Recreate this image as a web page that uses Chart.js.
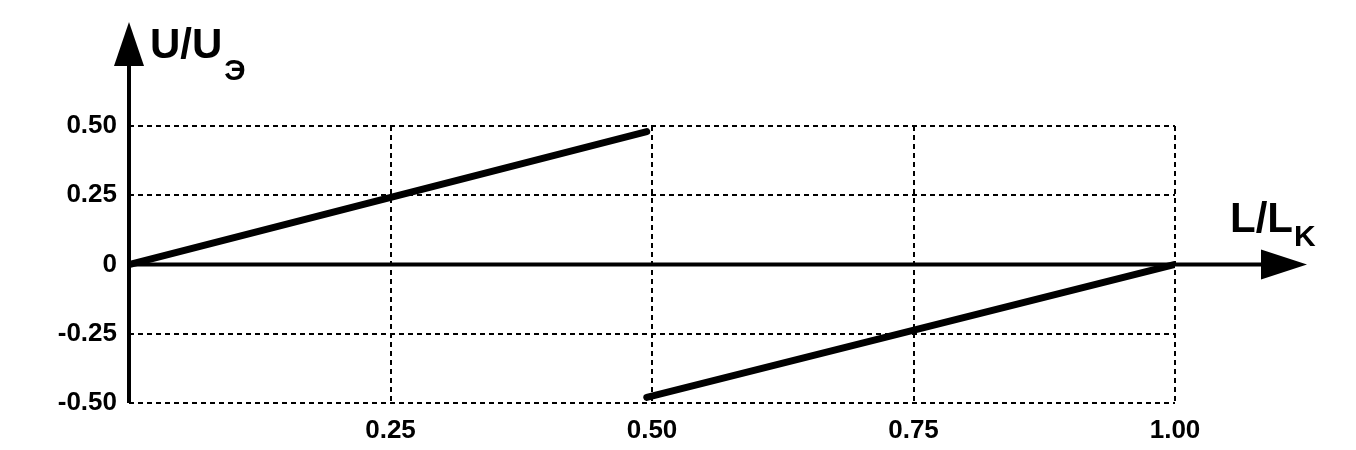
<!DOCTYPE html>
<html><head><meta charset="utf-8">
<script src="https://cdn.jsdelivr.net/npm/chart.js@4"></script>
<style>html,body{margin:0;padding:0;background:#fff}#w{width:1356px;height:450px}</style>
</head><body><div id="w"><canvas id="c"></canvas></div>
<script>
const segment1 = [{x:0, y:0}, {x:0.495, y:0.48}];
const segment2 = [{x:0.495, y:-0.48}, {x:1.0, y:0}];
const xTicks = [0.25, 0.50, 0.75, 1.00];
const yTicks = [-0.50, -0.25, 0, 0.25, 0.50];
const yTitle = ['U/U', 'Э'];
const xTitle = ['L/L', 'K'];
const FONT = 'Liberation Sans, Arial, sans-serif';

const axesPlugin = {
  id: 'axes',
  afterDatasetsDraw(chart) {
    const ctx = chart.ctx, xs = chart.scales.x, ys = chart.scales.y;
    const x0 = xs.getPixelForValue(0), y0 = ys.getPixelForValue(0);
    ctx.save();
    ctx.strokeStyle = '#000'; ctx.fillStyle = '#000'; ctx.lineWidth = 4;
    ctx.beginPath(); ctx.moveTo(x0, ys.bottom); ctx.lineTo(x0, 62); ctx.stroke();
    ctx.beginPath(); ctx.moveTo(x0, 22); ctx.lineTo(x0 - 15, 66); ctx.lineTo(x0 + 15, 66); ctx.closePath(); ctx.fill();
    ctx.beginPath(); ctx.moveTo(x0, y0); ctx.lineTo(1265, y0); ctx.stroke();
    ctx.beginPath(); ctx.moveTo(1307, y0); ctx.lineTo(1261, y0 - 15); ctx.lineTo(1261, y0 + 15); ctx.closePath(); ctx.fill();
    ctx.textBaseline = 'alphabetic'; ctx.textAlign = 'left';
    ctx.font = 'bold 42px ' + FONT;
    ctx.fillText(yTitle[0], 150, 58);
    let w = ctx.measureText(yTitle[0]).width;
    ctx.font = 'bold 30px ' + FONT;
    ctx.fillText(yTitle[1], 150 + w + 2, 80);
    ctx.font = 'bold 42px ' + FONT;
    ctx.fillText(xTitle[0], 1230, 232);
    w = ctx.measureText(xTitle[0]).width;
    ctx.font = 'bold 30px ' + FONT;
    ctx.fillText(xTitle[1], 1230 + w + 1, 246);
    ctx.restore();
  }
};

new Chart(document.getElementById('c'), {
  type: 'scatter',
  data: { datasets: [
    { data: segment1, showLine: true, borderColor: '#000', borderWidth: 7, pointRadius: 0, borderCapStyle: 'round' },
    { data: segment2, showLine: true, borderColor: '#000', borderWidth: 7, pointRadius: 0, borderCapStyle: 'round' }
  ]},
  options: {
    responsive: true, maintainAspectRatio: false, animation: false,
    layout: { padding: { top: 126, right: 181, left: 0, bottom: 0 } },
    plugins: { legend: { display: false }, tooltip: { enabled: false } },
    scales: {
      x: {
        type: 'linear', min: 0, max: 1.0,
        afterFit(s) { s.height = 47; },
        afterBuildTicks(s) { s.ticks = [{value:0}].concat(xTicks.map(v => ({value: v}))); },
        ticks: { color: '#000', font: { family: FONT, size: 26, weight: 'bold' }, padding: 12,
          callback: v => v === 0 ? '' : v.toFixed(2) },
        grid: { color: '#000', lineWidth: 2, drawTicks: false },
        border: { display: false, dash: [5, 4] }
      },
      y: {
        type: 'linear', min: -0.5, max: 0.5,
        afterFit(s) { s.width = 129; },
        afterBuildTicks(s) { s.ticks = yTicks.map(v => ({value: v})); },
        ticks: { color: '#000', font: { family: FONT, size: 26, weight: 'bold' }, padding: 12,
          callback: v => v === 0 ? '0' : v.toFixed(2) },
        grid: { color: '#000', lineWidth: 2, drawTicks: false },
        border: { display: false, dash: [5, 4] }
      }
    }
  },
  plugins: [axesPlugin]
});
</script></body></html>
